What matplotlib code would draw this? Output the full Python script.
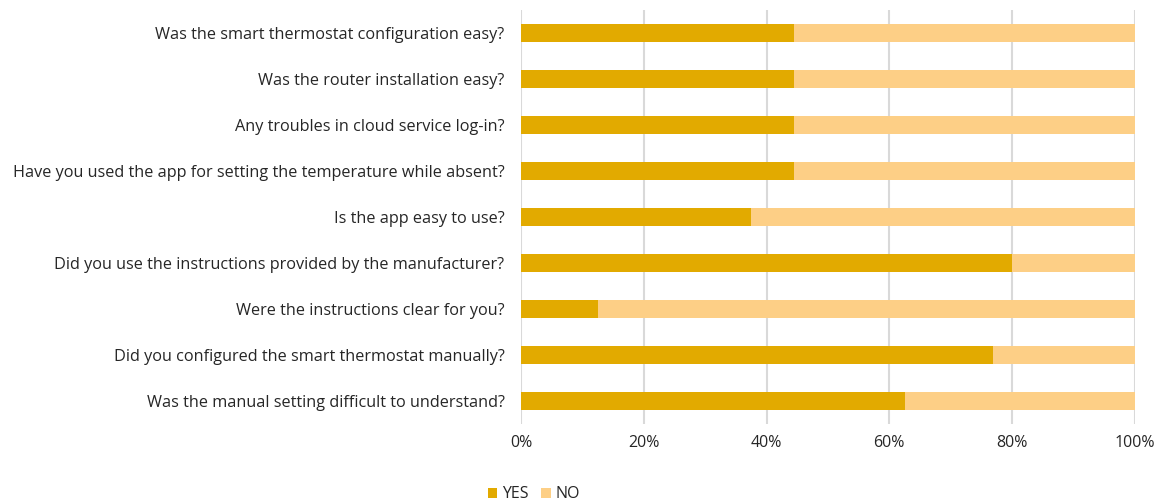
import matplotlib
matplotlib.use("Agg")
import matplotlib.pyplot as plt
from matplotlib.ticker import PercentFormatter

questions = [
    "Was the smart thermostat configuration easy?",
    "Was the router installation easy?",
    "Any troubles in cloud service log-in?",
    "Have you used the app for setting the temperature while absent?",
    "Is the app easy to use?",
    "Did you use the instructions provided by the manufacturer?",
    "Were the instructions clear for you?",
    "Did you configured the smart thermostat manually?",
    "Was the manual setting difficult to understand?",
]
yes = [44.4, 44.4, 44.4, 44.4, 37.5, 80.0, 12.5, 77.0, 62.5]
no = [100 - v for v in yes]

plt.rcParams['font.family'] = ['Open Sans', 'DejaVu Sans']

fig = plt.figure(figsize=(11.66, 5.04), dpi=100)
ax = fig.add_axes([0.447, 0.159, 0.526, 0.821])

pos = list(range(len(questions)))[::-1]
ax.barh(pos, yes, height=0.38, color="#e2aa00", label="YES", zorder=3)
ax.barh(pos, no, left=yes, height=0.38, color="#fdcf86", label="NO", zorder=3)

ax.set_xlim(0, 100)
ax.set_ylim(-0.5, len(questions) - 0.5)
ax.set_yticks(pos)
ax.set_yticklabels(questions, fontsize=11.7, color="#262626")
ax.set_xticks([0, 20, 40, 60, 80, 100])
ax.xaxis.set_major_formatter(PercentFormatter(decimals=0))
ax.tick_params(axis="x", labelsize=11.5, labelcolor="#262626", length=0, pad=8)
ax.tick_params(axis="y", length=0, pad=12)
ax.grid(axis="x", color="#d9d9d9", linewidth=1.5, zorder=0)
for s in ax.spines.values():
    s.set_visible(False)

fig.legend(loc="lower center", bbox_to_anchor=(0.458, -0.025), ncol=2, frameon=False,
           fontsize=11.5, handlelength=0.6, handleheight=0.6, handletextpad=0.3,
           columnspacing=0.8, labelcolor="#262626")

fig.savefig("out.png", dpi=100)
